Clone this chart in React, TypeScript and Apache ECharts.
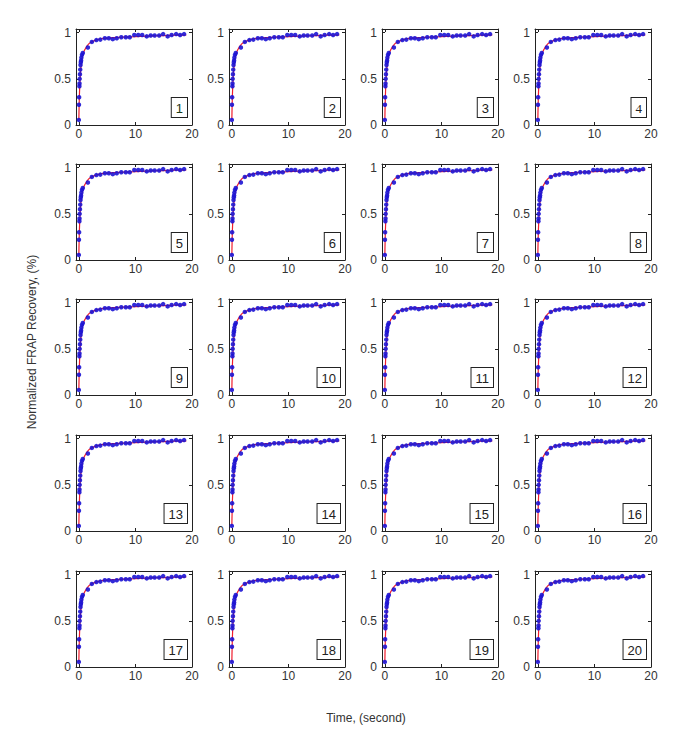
import React, { useEffect, useRef } from "react";
import * as echarts from "echarts";

// Panel labels
const panelLabels: string[] = [
  "1", "2", "3", "4", "5", "6", "7", "8", "9", "10",
  "11", "12", "13", "14", "15", "16", "17", "18", "19", "20",
];

// Measured time points (s)
const timePoints: number[] = [
  0, 0.02, 0.05, 0.1, 0.12, 0.15, 0.2, 0.25, 0.3, 0.35, 0.4, 0.45, 0.55, 0.7,
  1.6, 2.3, 3.1, 3.8, 4.6, 5.3, 6.0, 6.7, 7.5, 8.3, 9.0, 9.8, 10.5, 11.2,
  12.0, 12.7, 13.4, 14.2, 14.9, 15.7, 16.4, 17.2, 17.9, 18.6,
];

// Measured normalized recovery
const recovery: number[] = [
  0.055, 0.22, 0.3, 0.42, 0.45, 0.5, 0.55, 0.6, 0.65, 0.68, 0.7, 0.73, 0.76, 0.78,
  0.84, 0.9, 0.92, 0.925, 0.94, 0.94, 0.93, 0.94, 0.95, 0.95, 0.95, 0.975, 0.975, 0.975,
  0.96, 0.97, 0.97, 0.97, 0.985, 0.96, 0.975, 0.985, 0.975, 0.985,
];

// Fitted curve
const fitTime: number[] = [
  0, 0.05, 0.1, 0.2, 0.3, 0.4, 0.5, 0.6, 0.8, 1.0, 1.5, 2, 3, 4, 5, 6, 8, 10, 12, 14, 16, 18, 19,
];
const fitValue: number[] = [
  0.05, 0.2, 0.32, 0.47, 0.57, 0.64, 0.69, 0.73, 0.78, 0.81, 0.86, 0.89, 0.92, 0.935, 0.942,
  0.947, 0.953, 0.958, 0.963, 0.967, 0.971, 0.974, 0.975,
];

const xTicks: number[] = [0, 10, 20];
const yTicks: number[] = [0, 0.5, 1];

const colLefts = [76, 229, 382, 535];
const rowTops = [29, 164, 299, 435, 571];
const gw = 116;
const gh = 96;

export default function App() {
  const ref = useRef<HTMLDivElement>(null);
  useEffect(() => {
    document.body.style.margin = "0";
    if (!ref.current) return;
    const chart = echarts.init(ref.current, undefined, { renderer: "svg" });
    const grids: any[] = [];
    const xAxes: any[] = [];
    const yAxes: any[] = [];
    const series: any[] = [];
    const graphics: any[] = [];
    const tickFont = "'Liberation Sans Narrow', 'Liberation Sans', Arial, sans-serif";
    const scatterData = timePoints.map((t, i) => [t, recovery[i]]);
    const fitData = fitTime.map((t, i) => [t, fitValue[i]]);
    panelLabels.forEach((lab, i) => {
      const r = Math.floor(i / 4);
      const c = i % 4;
      const left = colLefts[c];
      const top = rowTops[r];
      grids.push({ left, top, width: gw, height: gh, containLabel: false });
      const axLine = { show: true, onZero: false, lineStyle: { color: "#222", width: 1 } };
      const tick = (vals: number[]) => ({ show: true, inside: true, length: 3, customValues: vals, lineStyle: { color: "#222" } });
      xAxes.push({
        type: "value", gridIndex: i, min: -0.5, max: 20, position: "bottom",
        axisLine: axLine, axisTick: tick(xTicks), splitLine: { show: false },
        axisLabel: { customValues: xTicks, color: "#333", fontSize: 12, fontFamily: tickFont, margin: 3 },
      });
      xAxes.push({
        type: "value", gridIndex: i, min: -0.5, max: 20, position: "top",
        axisLine: axLine, axisTick: tick(xTicks), splitLine: { show: false },
        axisLabel: { show: false },
      });
      yAxes.push({
        type: "value", gridIndex: i, min: 0, max: 1.04, position: "left",
        axisLine: axLine, axisTick: tick(yTicks), splitLine: { show: false },
        axisLabel: { customValues: yTicks, color: "#333", fontSize: 12, fontFamily: tickFont, margin: 5 },
      });
      yAxes.push({
        type: "value", gridIndex: i, min: 0, max: 1.04, position: "right",
        axisLine: axLine, axisTick: tick(yTicks), splitLine: { show: false },
        axisLabel: { show: false },
      });
      series.push({
        type: "line", xAxisIndex: i * 2, yAxisIndex: i * 2, data: fitData,
        showSymbol: false, smooth: 0.3, lineStyle: { color: "#f01c2c", width: 1.2 }, z: 2,
      });
      series.push({
        type: "scatter", xAxisIndex: i * 2, yAxisIndex: i * 2, data: scatterData,
        symbol: "circle", symbolSize: 4.5, itemStyle: { color: "#1c14d4", opacity: 0.9 }, z: 3,
      });
      graphics.push({
        type: "text",
        x: left + gw - 5,
        y: top + gh - 8,
        style: {
          text: lab,
          align: "right",
          verticalAlign: "bottom",
          fill: i === 0 ? "#1a3a1a" : "#222",
          font: i === 3 ? "13px 'Liberation Serif', serif" : "13px 'Liberation Sans', Arial, sans-serif",
          backgroundColor: "#fff",
          borderColor: "#222",
          borderWidth: 1,
          padding: [4, 4, 2, 4],
        },
        z: 10,
      });
    });
    graphics.push({
      type: "text", x: 32, y: 342, rotation: Math.PI / 2,
      style: { text: "Normalized FRAP Recovery, (%)", align: "center", verticalAlign: "middle", fill: "#333", font: "12px 'Liberation Sans', Arial, sans-serif" },
    });
    graphics.push({
      type: "text", x: 366, y: 718,
      style: { text: "Time, (second)", align: "center", verticalAlign: "middle", fill: "#333", font: "12px 'Liberation Sans', Arial, sans-serif" },
    });
    chart.setOption({
      animation: false,
      backgroundColor: "#fff",
      grid: grids,
      xAxis: xAxes,
      yAxis: yAxes,
      series,
      graphic: graphics,
    });
    return () => chart.dispose();
  }, []);
  return <div ref={ref} style={{ width: 685, height: 755 }} />;
}
